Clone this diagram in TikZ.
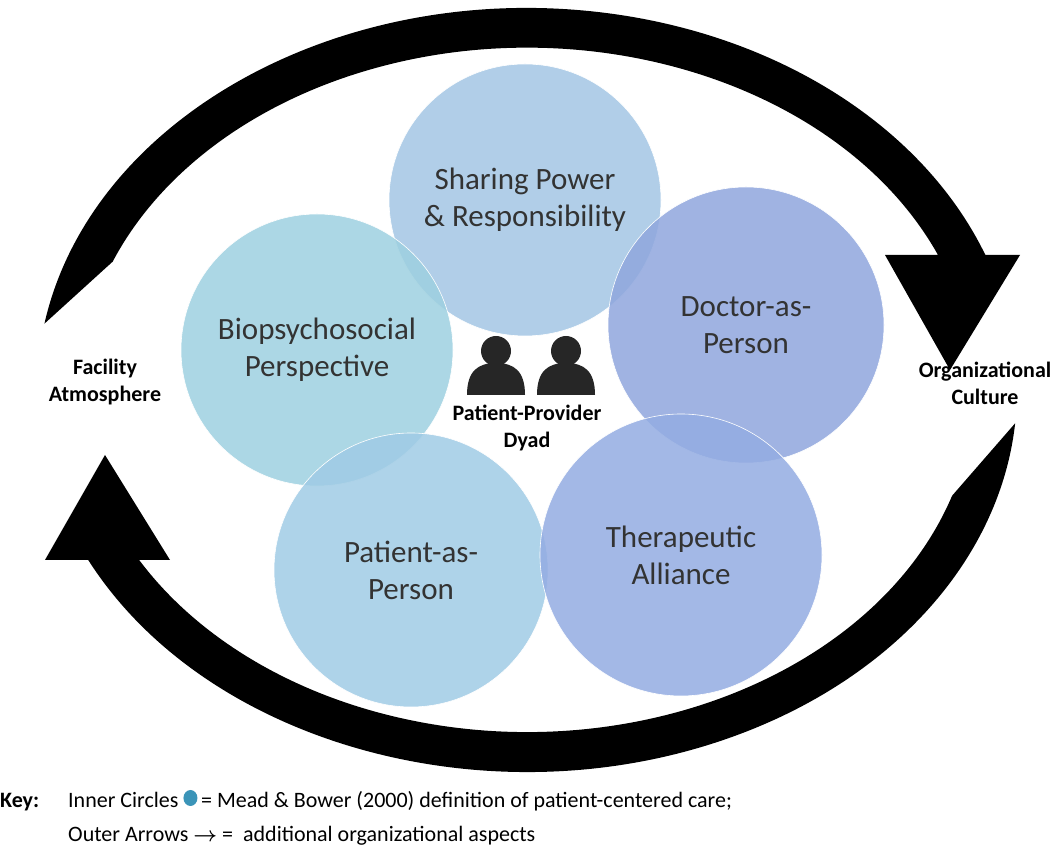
\documentclass[tikz,border=0pt]{standalone}
\usepackage{fontspec}
\setmainfont{Carlito}
\usetikzlibrary{calc}
\definecolor{cSP}{HTML}{A3C6E4}
\definecolor{cBP}{HTML}{9ED0E0}
\definecolor{cDP}{HTML}{8FA6DD}
\definecolor{cPP}{HTML}{A0CBE5}
\definecolor{cTA}{HTML}{93ACE2}
\definecolor{cKey}{HTML}{3B94B8}
\begin{document}
\begin{tikzpicture}[x=1pt,y=1pt,
  circ/.style={circle,draw=white,line width=0.6pt,fill opacity=0.85,text opacity=1,align=center,font=\fontsize{31}{37}\selectfont,text=black!80},
  lab/.style={align=center,font=\bfseries\fontsize{22}{27}\selectfont},
  key/.style={anchor=base west,font=\fontsize{22}{26}\selectfont,inner sep=0pt}]
\useasboundingbox (0,0) rectangle (1054,853);
% outer arrows
\fill[black] (527,463) ++(170:490 and 382)
  arc[start angle=170,end angle=20.7,x radius=490,y radius=382]
  -- (1020,598) -- (950,483) -- (885,598) -- (938,598)
  arc[start angle=23.2,end angle=158,x radius=447,y radius=342] -- cycle;
\fill[black] (527,463) ++(206.4:490 and 382)
  arc[start angle=206.4,end angle=355,x radius=490,y radius=382]
  -- ($(527,463)+(342:447 and 342)$)
  arc[start angle=342,end angle=209.8,x radius=447,y radius=342]
  -- (170,293) -- (105,398) -- (45,293) -- cycle;
% circles
\node[circ,fill=cSP,minimum size=272pt] (sp) at (525,653) {Sharing Power\\\& Responsibility};
\node[circ,fill=cBP,minimum size=272pt] (bp) at (317,503) {Biopsychosocial\\Perspective};
\node[circ,fill=cDP,minimum size=276pt] (dp) at (746,528) {Doctor-as-\\Person};
\node[circ,fill=cPP,minimum size=274pt] (pp) at (411,283) {Patient-as-\\Person};
\node[circ,fill=cTA,minimum size=282pt] (ta) at (681,298) {Therapeutic\\Alliance};
% people
\foreach \n/\xx in {p1/496,p2/566}{
  \fill[black!85] (\xx,502) circle (15);
  \fill[black!85] (\xx-29,458) .. controls (\xx-29,482) and (\xx-18,490) .. (\xx,490) .. controls (\xx+18,490) and (\xx+29,482) .. (\xx+29,458) -- cycle;
}
\node[lab] (dy) at (527,425) {Patient-Provider\\Dyad};
\node[lab] (fa) at (105,471) {Facility\\Atmosphere};
\node[lab] (oc) at (985,470) {Organizational\\Culture};
% key
\node[key,font=\bfseries\fontsize{22}{26}\selectfont] (k) at (0,45) {Key:};
\node[key] (k1) at (68,45) {Inner Circles \textcolor{cKey}{\raisebox{2pt}{\tikz\fill (0,0) ellipse (7pt and 8pt);}}\,= Mead \& Bower (2000) definition of patient-centered care;};
\node[key] (k2) at (68,11) {Outer Arrows {\boldmath$\rightarrow$} =\ \ additional organizational aspects};
\end{tikzpicture}
\end{document}
